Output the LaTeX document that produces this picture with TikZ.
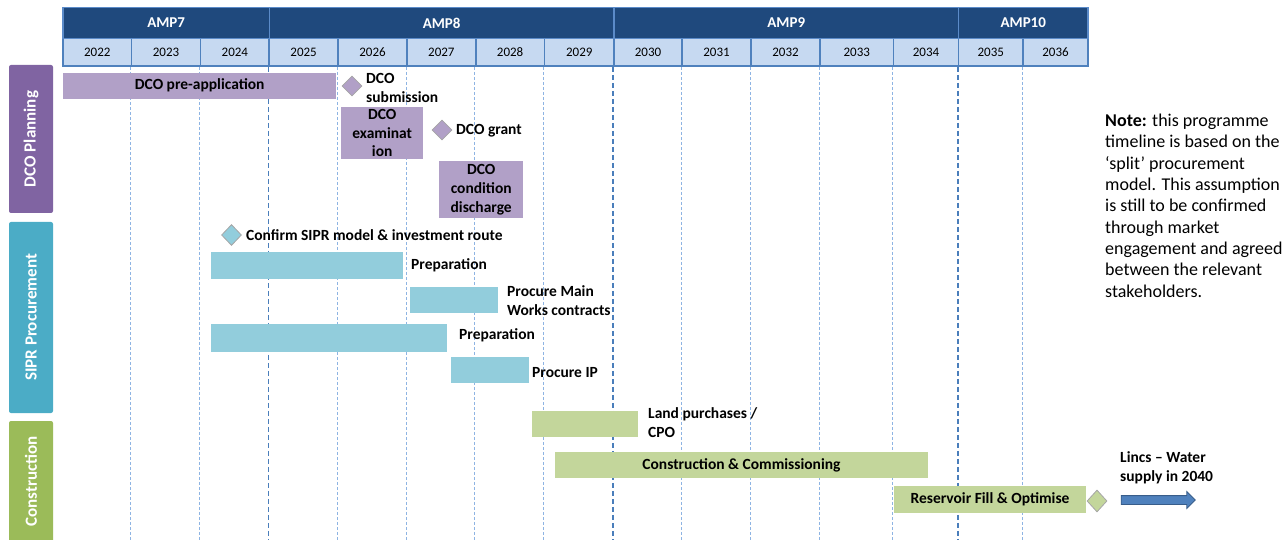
\documentclass[tikz,border=0pt]{standalone}
\usepackage{fontspec}
\setmainfont{Carlito}
\usetikzlibrary{shapes.geometric,shapes.arrows}
\definecolor{ampnavy}{HTML}{1F497D}
\definecolor{ampline}{HTML}{5B8BC9}
\definecolor{yrfill}{HTML}{C6D9F1}
\definecolor{yrline}{HTML}{4F81BD}
\definecolor{purpside}{HTML}{8064A2}
\definecolor{purpbar}{HTML}{B1A0C7}
\definecolor{cyanside}{HTML}{4BACC6}
\definecolor{cyanbar}{HTML}{92CDDC}
\definecolor{greenside}{HTML}{9BBB59}
\definecolor{greenbar}{HTML}{C3D69B}
\definecolor{diaedge}{HTML}{A6A6A6}
\definecolor{thinline}{HTML}{8EB4E3}
\definecolor{thickline}{HTML}{4A7EBB}
\definecolor{arrowfill}{HTML}{4F81BD}
\definecolor{arrowedge}{HTML}{385D8A}
\tikzset{
  ampcell/.style={fill=ampnavy,draw=ampline,line width=1.5pt,inner sep=0,text=white,
    font=\fontsize{15}{18}\selectfont\bfseries,minimum height=31pt},
  yrcell/.style={fill=yrfill,draw=yrline,line width=1.8pt,inner sep=0,
    font=\fontsize{13}{16}\selectfont,minimum height=27.5pt},
  sidebox/.style={rotate=90,rounded corners=2pt,inner sep=0,text=white,
    font=\fontsize{17}{20}\selectfont\bfseries,minimum height=44pt},
  gbox/.style={anchor=north west,inner sep=0,align=center,
    font=\fontsize{15.5}{18.7}\selectfont\bfseries},
  pbox/.style={gbox,fill=purpbar},
  cbox/.style={gbox,fill=cyanbar},
  grbox/.style={gbox,fill=greenbar},
  lbl/.style={anchor=west,inner sep=0,align=left,
    font=\fontsize{15.5}{19}\selectfont\bfseries},
  mile/.style={diamond,draw=diaedge,line width=0.8pt,inner sep=0,minimum width=20pt,minimum height=20pt},
  thingrid/.style={draw=thinline,line width=0.8pt,dash pattern=on 3pt off 2pt},
  thickgrid/.style={draw=thickline,line width=1.8pt,dash pattern=on 5pt off 3pt},
}
\begin{document}
\begin{tikzpicture}[x=1pt,y=-1pt]
\useasboundingbox (0,0) rectangle (1285,540);

% year header cells
\foreach \l/\r/\yr in {63/131.5/2022,131.5/200.5/2023,200.5/269.3/2024,269.3/338/2025,
  338/407/2026,407/475.7/2027,475.7/544.5/2028,544.5/614/2029,614/682/2030,682/751/2031,
  751/820/2032,820/893.5/2033,893.5/958.5/2034,958.5/1023/2035,1023/1088/2036}
  \node[yrcell,minimum width={(\r-\l)*1pt}] (y\yr) at ({(\l+\r)/2},52.25) {\yr};

% AMP header cells
\foreach \l/\r/\amp in {63/269.3/AMP7,269.3/614/AMP8,614/958.5/AMP9,958.5/1088/AMP10}
  \node[ampcell,minimum width={(\r-\l)*1pt}] (\amp) at ({(\l+\r)/2},23) {\amp};

% grid lines
\foreach \yr in {2023,2024,2026,2027,2028,2029,2031,2032,2033,2034,2036}
  \draw[thingrid] (y\yr.south west) -- ++(0,476);
\foreach \yr in {2025,2030,2035}
  \draw[thickgrid] (y\yr.south west) -- ++(0,476);

% side labels
\node[sidebox,fill=purpside,minimum width=148pt] (sdco) at (31,139) {DCO Planning};
\node[sidebox,fill=cyanside,minimum width=191pt] (ssipr) at (31,317.5) {SIPR Procurement};
\node[sidebox,fill=greenside,minimum width=121pt] (scon) at (31,481.5) {Construction};

% DCO planning
\node[pbox,minimum width=273pt,minimum height=26pt] (preapp) at (63,72.5) {DCO pre-application};
\node[mile,fill=purpbar] (dsub) at (352,86) {};
\node[lbl] (dsubl) at (366,87.5) {DCO\\submission};
\node[pbox,minimum width=82pt,minimum height=52pt] (exam) at (341,107) {DCO\\examinat\\ion};
\node[mile,fill=purpbar] (dgrant) at (442,130) {};
\node[lbl] (dgrantl) at (456,130.5) {DCO grant};
\node[pbox,minimum width=84pt,minimum height=57pt] (disch) at (439,161) {DCO\\condition\\discharge};

% SIPR procurement
\node[mile,fill=cyanbar,minimum height=21pt] (conf) at (231.5,235) {};
\node[lbl] (confl) at (246,235.5) {Confirm SIPR model \& investment route};
\node[cbox,minimum width=191.5pt,minimum height=26.7pt] (prep1) at (211,252) {};
\node[lbl] (prep1l) at (411,265.5) {Preparation};
\node[cbox,minimum width=88pt,minimum height=25.7pt] (pmain) at (410,287) {};
\node[lbl] (pmainl) at (507,301) {Procure Main\\Works contracts};
\node[cbox,minimum width=236pt,minimum height=27.7pt] (prep2) at (211,324) {};
\node[lbl] (prep2l) at (459,335.5) {Preparation};
\node[cbox,minimum width=77.6pt,minimum height=25.6pt] (pip) at (451,357) {};
\node[lbl] (pipl) at (532,372.5) {Procure IP};

% Construction
\node[grbox,minimum width=106pt,minimum height=26pt] (land) at (532,411) {};
\node[lbl] (landl) at (648,422.5) {Land purchases /\\CPO};
\node[grbox,minimum width=372.5pt,minimum height=26pt] (constr) at (555,452) {Construction \& Commissioning};
\node[grbox,minimum width=191.6pt,minimum height=26.7pt] (resv) at (894,486) {Reservoir Fill \& Optimise};
\node[mile,fill=greenbar,minimum height=22pt] (fin) at (1097,501) {};
\node[single arrow,fill=arrowfill,draw=arrowedge,line width=0.8pt,inner xsep=0pt,inner ysep=4pt,
  text height=0pt,text depth=0pt,minimum height=74pt,single arrow head extend=4pt] (goal) at (1156,500) {};
\node[lbl] (lincs) at (1120,468) {Lincs -- Water\\supply in 2040};

% note
\node[anchor=north west,inner sep=0,align=left,font=\fontsize{18}{21.3}\selectfont] (note) at (1105,114)
 {\textbf{Note:} this programme\\timeline is based on the\\‘split’ procurement\\model. This assumption\\is still to be confirmed\\through market\\engagement and agreed\\between the relevant\\stakeholders.};
\end{tikzpicture}
\end{document}
